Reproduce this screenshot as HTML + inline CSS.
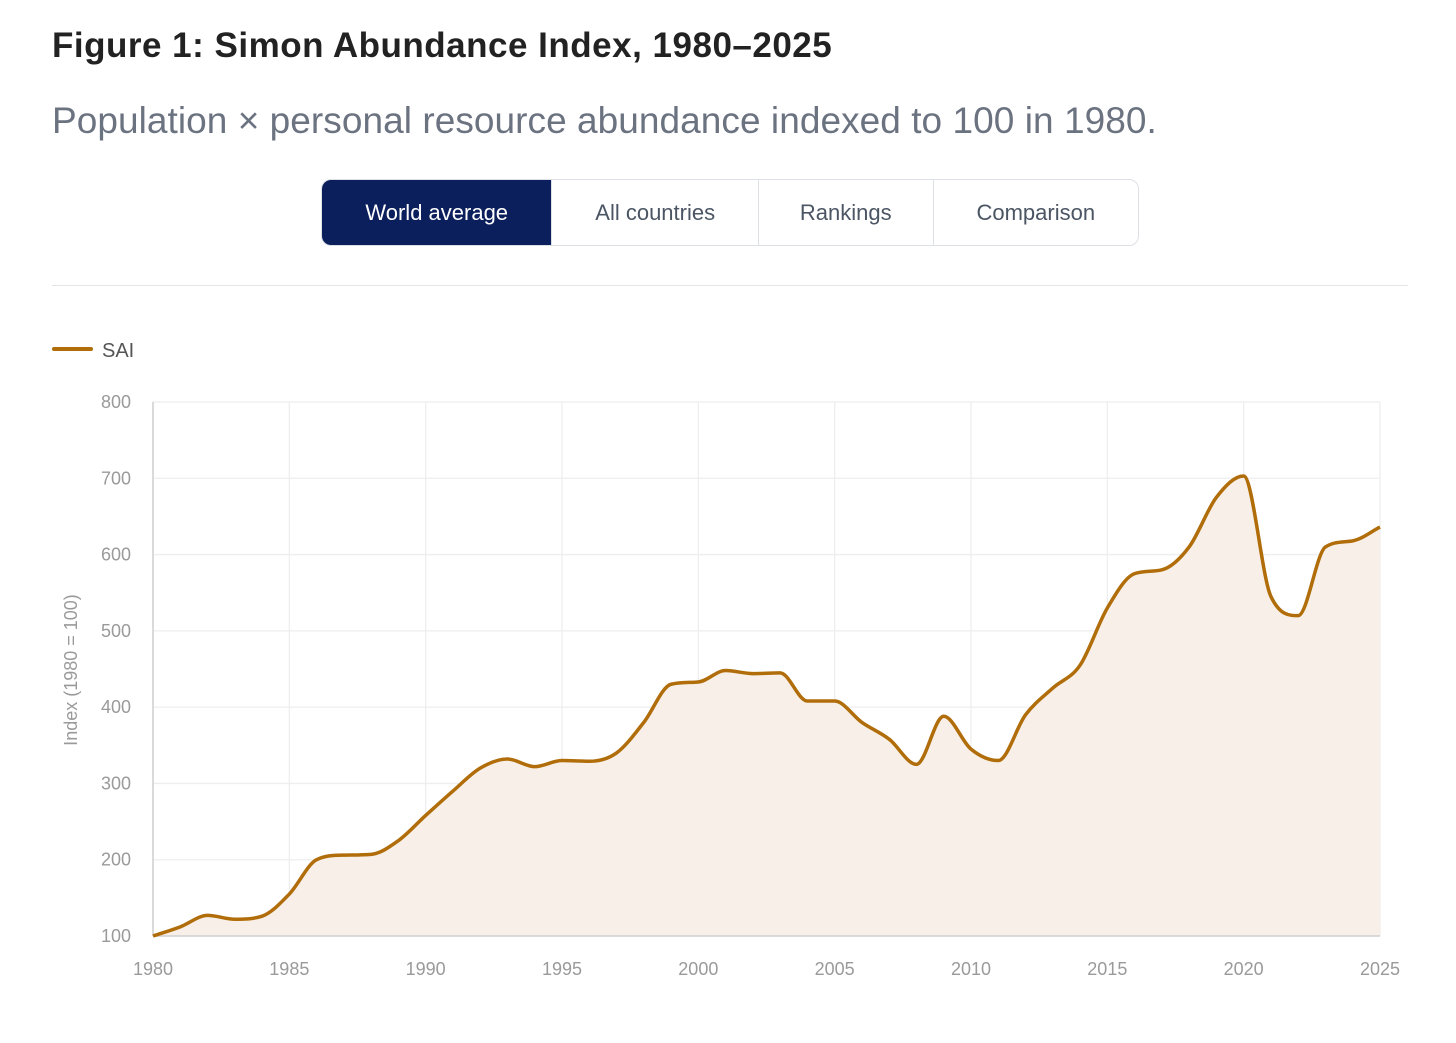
<!DOCTYPE html>
<html><head><meta charset="utf-8"><style>
body{margin:0;width:1456px;height:1043px;background:#fff;font-family:"Liberation Sans",sans-serif;position:relative;overflow:hidden}
.t{position:absolute;left:52px;top:26px;font-size:35px;font-weight:bold;color:#222;letter-spacing:0.5px}
.s{position:absolute;left:52px;top:100px;font-size:37px;color:#6b7280;letter-spacing:0.05px}
.tabs{position:absolute;left:321px;top:179px;width:818px;height:67px;border:1px solid #dde0e4;border-radius:10px;display:flex;overflow:hidden;box-sizing:border-box}
.tab{height:100%;display:flex;align-items:center;justify-content:center;font-size:22px;color:#4b5563;border-left:1px solid #dde0e4;box-sizing:border-box}
.tab.a{background:#0b1f5c;color:#fff;border:none}
.hr{position:absolute;left:52px;top:285px;width:1356px;height:1px;background:#e3e4e6}
</style></head><body>
<div class="t">Figure 1: Simon Abundance Index, 1980–2025</div>
<div class="s">Population × personal resource abundance indexed to 100 in 1980.</div>
<div class="tabs">
<div class="tab a" style="width:230px">World average</div>
<div class="tab" style="width:207px">All countries</div>
<div class="tab" style="width:175px">Rankings</div>
<div class="tab" style="width:206px">Comparison</div>
</div>
<div class="hr"></div>
<svg id="c" width="1456" height="1043" style="position:absolute;left:0;top:0"></svg>
<script>
const years=[1980,1981,1982,1983,1984,1985,1986,1987,1988,1989,1990,1991,1992,1993,1994,1995,1996,1997,1998,1999,2000,2001,2002,2003,2004,2005,2006,2007,2008,2009,2010,2011,2012,2013,2014,2015,2016,2017,2018,2019,2020,2021,2022,2023,2024,2025];
const sai=[100,112,127,122,126,155,200,206,207,225,258,290,320,332,322,330,329,340,380,430,433,448,444,445,408,408,380,358,325,388,345,330,390,425,455,530,575,580,610,675,703,545,520,610,618,636];
const yTicks=[100,200,300,400,500,600,700,800];
const xTicks=[1980,1985,1990,1995,2000,2005,2010,2015,2020,2025];
const NS="http://www.w3.org/2000/svg",svg=document.getElementById('c');
const X=v=>153+(v-1980)*(1227/45), Y=v=>936-(v-100)*(534/700);
function mk(t,a,txt){const e=document.createElementNS(NS,t);for(const k in a)e.setAttribute(k,a[k]);if(txt!=null)e.textContent=txt;svg.appendChild(e);return e;}
yTicks.forEach(v=>{const l=mk('line',{x1:153,x2:1380,y1:Y(v),y2:Y(v),stroke:'#eeeeee','stroke-width':1.3});

const t=mk('text',{x:131,y:Y(v)+6,'text-anchor':'end','font-size':18,fill:'#9a9a9a'},v);
});
xTicks.forEach(v=>{const l=mk('line',{x1:X(v),x2:X(v),y1:402,y2:936,stroke:'#eeeeee','stroke-width':1.3});

const t=mk('text',{x:X(v),y:975,'text-anchor':'middle','font-size':18,fill:'#9a9a9a'},v);
});
const pts=years.map((y,i)=>[X(y),Y(sai[i])]);
// monotone cubic (Fritsch-Carlson)
const n=pts.length,dl=[],m=[];
for(let i=0;i<n-1;i++)dl.push((pts[i+1][1]-pts[i][1])/(pts[i+1][0]-pts[i][0]));
m[0]=dl[0];m[n-1]=dl[n-2];
for(let i=1;i<n-1;i++)m[i]=(dl[i-1]*dl[i]<=0)?0:(dl[i-1]+dl[i])/2;
for(let i=0;i<n-1;i++){if(dl[i]===0){m[i]=0;m[i+1]=0;continue;}const a=m[i]/dl[i],b=m[i+1]/dl[i],s=a*a+b*b;if(s>9){const t=3/Math.sqrt(s);m[i]=t*a*dl[i];m[i+1]=t*b*dl[i];}}
let d=`M${pts[0][0]},${pts[0][1]}`;
for(let i=0;i<n-1;i++){const h=(pts[i+1][0]-pts[i][0])/3;
d+=` C${pts[i][0]+h},${pts[i][1]+m[i]*h} ${pts[i+1][0]-h},${pts[i+1][1]-m[i+1]*h} ${pts[i+1][0]},${pts[i+1][1]}`;}
const area=mk('path',{d:d+` L${X(2025)},936 L${X(1980)},936 Z`,fill:'#f8f0e8'});

const ax=mk('line',{x1:153,x2:1380,y1:936,y2:936,stroke:'#d0d0d0','stroke-width':1.5});

const ay=mk('line',{x1:153,x2:153,y1:402,y2:936,stroke:'#d0d0d0','stroke-width':1.5});

const ln=mk('path',{d:d,fill:'none',stroke:'#b06d0a','stroke-width':3.5,'stroke-linejoin':'round'});

const yt=mk('text',{x:0,y:0,transform:'translate(77,670) rotate(-90)','text-anchor':'middle','font-size':18,fill:'#9a9a9a'},'Index (1980 = 100)');

const lg=mk('line',{x1:54,x2:91,y1:349,y2:349,stroke:'#b06d0a','stroke-width':4,'stroke-linecap':'round'});

const lt=mk('text',{x:102,y:357,'font-size':20,fill:'#555'},'SAI');

</script>
</body></html>
